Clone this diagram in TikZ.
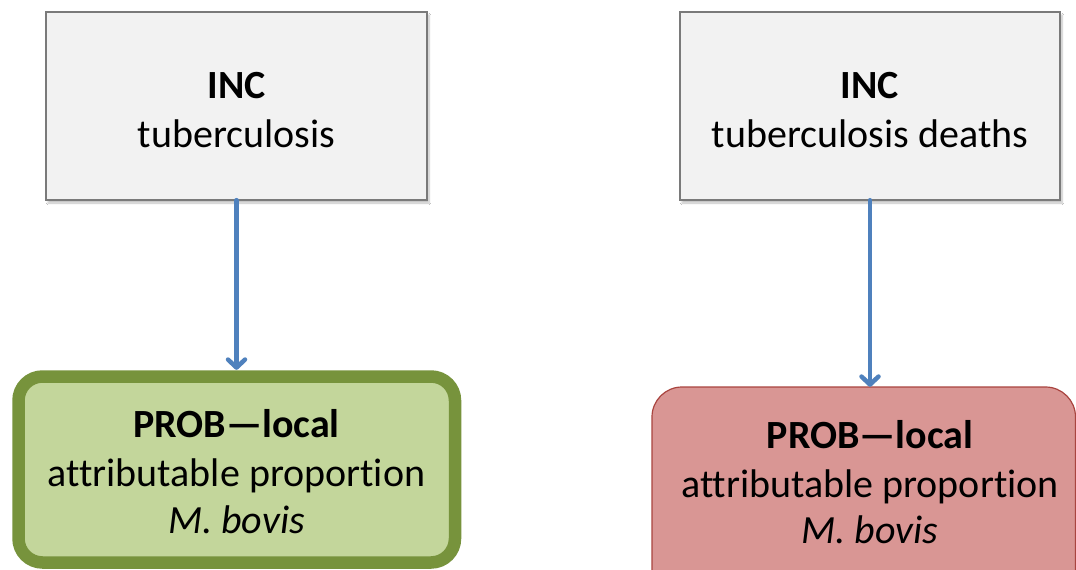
\documentclass[tikz,border=0pt]{standalone}
\usepackage{fontspec}
\setmainfont{Carlito}[Ligatures={NoCommon}]
\usetikzlibrary{arrows.meta,shadows.blur}
\definecolor{boxgray}{HTML}{F2F2F2}
\definecolor{boxgrayline}{HTML}{7A7A7A}
\definecolor{greenfill}{HTML}{C3D69B}
\definecolor{greenline}{HTML}{77933C}
\definecolor{redfill}{HTML}{D99694}
\definecolor{redline}{HTML}{A9443F}
\definecolor{arrowblue}{HTML}{4F81BD}
\tikzset{
  x=1pt, y=-1pt,
  topbox/.style={draw=boxgrayline, line width=1.3pt, fill=boxgray,
    blur shadow={shadow xshift=2pt, shadow yshift=-3pt, shadow blur steps=6, shadow opacity=25}},
  greenbox/.style={draw=greenline, line width=12.5pt, fill=greenfill, rounded corners=24pt,
    blur shadow={shadow xshift=1pt, shadow yshift=-2pt, shadow blur steps=5, shadow opacity=20}},
  redbox/.style={draw=redline, line width=1.2pt, fill=redfill, rounded corners=30pt},
  txt/.style={font=\fontsize{40}{48}\selectfont, anchor=base, inner sep=0pt},
  btxt/.style={txt, font=\fontsize{40}{48}\selectfont\bfseries},
  itxt/.style={txt, font=\fontsize{40}{48}\selectfont\itshape},
  conn/.style={draw=arrowblue, line width=4.5pt, line cap=round,
    -{Straight Barb[length=8pt, width=17pt, line cap=round, line join=round]}}
}
\begin{document}
\begin{tikzpicture}
\useasboundingbox (0,0) rectangle (1076,570);
\clip (0,0) rectangle (1076,570);
\fill[white] (0,0) rectangle (1076,570);
% boxes
\path[topbox] (46,12) rectangle (427,200);
\node[inner sep=0pt, minimum width=381pt, minimum height=188pt] (inc1) at (236.5,106) {};
\path[topbox] (680,12) rectangle (1060,200);
\node[inner sep=0pt, minimum width=380pt, minimum height=188pt] (inc2) at (870,106) {};
\path[greenbox] (18.5,376.5) rectangle (455,562.5);
\node[inner sep=0pt, minimum width=449pt, minimum height=199pt] (prob1) at (236.5,469.5) {};
\path[redbox] (652,387) rectangle (1075.5,600);
\node[inner sep=0pt, minimum width=424pt, minimum height=213pt] (prob2) at (864,493.5) {};
% texts
\node[btxt] (t1a) at (236.5,98) {INC};
\node[txt]  (t1b) at (236.5,147) {tuberculosis};
\node[btxt] (t2a) at (870,98) {INC};
\node[txt]  (t2b) at (870,147) {tuberculosis deaths};
\node[btxt] (t3a) at (236.5,437) {PROB—local};
\node[txt]  (t3b) at (236.5,486) {attributable propor\kern0pt tion};
\node[itxt] (t3c) at (236.5,533) {M. bovis};
\node[btxt] (t4a) at (870,448) {PROB—local};
\node[txt]  (t4b) at (870,497) {attributable propor\kern0pt tion};
\node[itxt] (t4c) at (870,543) {M. bovis};
% connectors
\draw[conn] (inc1.south) -- (prob1.north);
\draw[conn] (inc2.south) -- ([xshift=6pt]prob2.north);
\end{tikzpicture}
\end{document}
